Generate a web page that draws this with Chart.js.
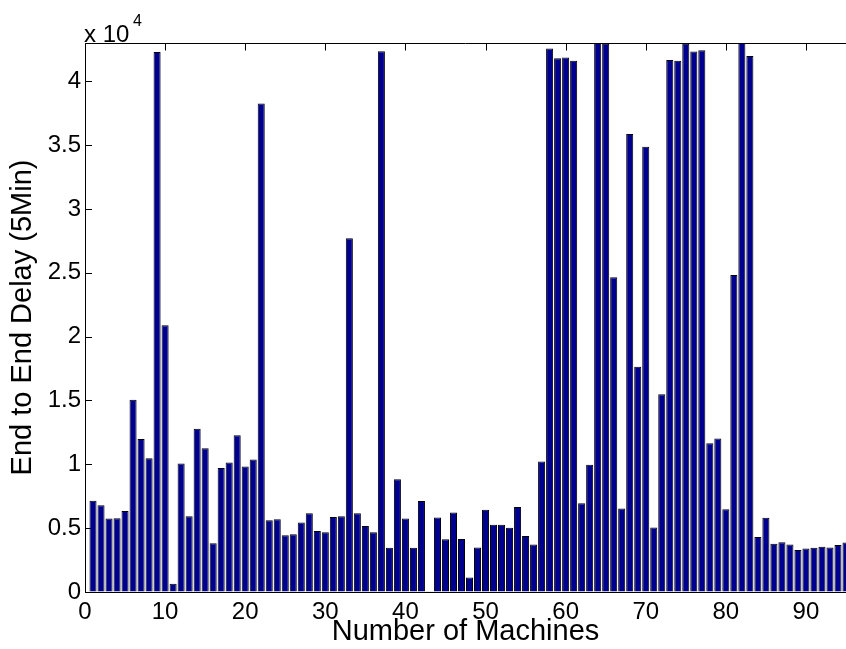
<!DOCTYPE html>
<html>
<head>
<meta charset="utf-8">
<script src="https://cdn.jsdelivr.net/npm/chart.js@4.4.0/dist/chart.umd.min.js"></script>
<style>
  html, body { margin: 0; padding: 0; background: #fff; }
  #wrap { position: relative; width: 846px; height: 649px; }
  .exp { position: absolute; font-family: "Liberation Sans", Arial, sans-serif; color: #000; white-space: nowrap; }
  #expBase { left: 84px; top: 22px; font-size: 24px; line-height: 24px; }
  #expPow { left: 133px; top: 13px; font-size: 16px; line-height: 16px; }
</style>
</head>
<body>
<div id="wrap">
  <canvas id="delayChart" width="846" height="649"></canvas>
  <span class="exp" id="expBase">x 10</span>
  <span class="exp" id="expPow">4</span>
</div>
<script>
const machines = [
   1,  2,  3,  4,  5,  6,  7,  8,  9, 10, 11, 12, 13, 14, 15, 16, 17, 18, 19, 20,
  21, 22, 23, 24, 25, 26, 27, 28, 29, 30, 31, 32, 33, 34, 35, 36, 37, 38, 39, 40,
  41, 42, 43, 44, 45, 46, 47, 48, 49, 50, 51, 52, 53, 54, 55, 56, 57, 58, 59, 60,
  61, 62, 63, 64, 65, 66, 67, 68, 69, 70, 71, 72, 73, 74, 75, 76, 77, 78, 79, 80,
  81, 82, 83, 84, 85, 86, 87, 88, 89, 90, 91, 92, 93, 94, 95
];

const delays = [
   7150,  6800,  5760,  5780,  6340, 15060, 11980, 10470, 42300, 20900,
    640, 10060,  5930, 12790, 11250,  3810,  9710, 10150, 12270,  9830,
  10380, 38260,  5610,  5700,  4450,  4530,  5440,  6160,  4770,  4680,
   5870,  5930, 27700,  6160,  5170,  4680, 42350,  3460,  8840,  5760,
   3460,  7120,    60,  5840,  4130,  6220,  4160,  1130,  3490,  6450,
   5260,  5260,  5030,  6660,  4390,  3720, 10230, 42560, 41800, 41860,
  41600,  6950,  9970, 44000, 42940, 24650,  6540, 35870, 17650, 34880,
   5060, 15490, 41660, 41600, 42940, 42330, 42440, 11660, 12030,  6480,
  24830, 44000, 41980,  4300,  5810,  3780,  3900,  3720,  3280,  3400,
   3460,  3550,  3490,  3690,  3870
];

const xTicks = [0, 10, 20, 30, 40, 50, 60, 70, 80, 90];
const yTicks = [0, 5000, 10000, 15000, 20000, 25000, 30000, 35000, 40000];

const FONT = '"Liberation Sans", Arial, Helvetica, sans-serif';

// MATLAB style box: inward ticks on the left, top border with ticks
const frame = {
  id: 'frame',
  beforeDatasetsDraw(chart) {
    const { ctx, chartArea: a, scales: { y } } = chart;
    ctx.save();
    ctx.strokeStyle = '#000';
    ctx.lineWidth = 1;
    ctx.beginPath();
    yTicks.forEach(v => {
      const py = Math.round(y.getPixelForValue(v)) + 0.5;
      ctx.moveTo(a.left, py);
      ctx.lineTo(a.left + 7, py);
    });
    ctx.stroke();
    ctx.restore();
  },
  afterDraw(chart) {
    const { ctx, chartArea: a, scales: { x } } = chart;
    ctx.save();
    ctx.strokeStyle = '#000';
    ctx.lineWidth = 1;
    ctx.beginPath();
    const top = Math.round(a.top) + 0.5;
    ctx.moveTo(a.left, top);
    ctx.lineTo(a.right, top);
    xTicks.forEach(v => {
      if (v === 0) return;
      const px = Math.round(x.getPixelForValue(v)) + 0.5;
      ctx.moveTo(px, top);
      ctx.lineTo(px, top + 7);
    });
    ctx.stroke();
    ctx.restore();
  }
};

new Chart(document.getElementById('delayChart').getContext('2d'), {
  type: 'bar',
  data: {
    datasets: [{
      data: machines.map((m, i) => ({ x: m, y: delays[i] })),
      backgroundColor: '#00008f',
      borderColor: '#000',
      borderWidth: 1,
      barPercentage: 0.88,
      categoryPercentage: 1.0
    }]
  },
  options: {
    responsive: false,
    animation: false,
    layout: { padding: { top: 43, right: 0, left: 0, bottom: 0 } },
    plugins: {
      legend: { display: false },
      tooltip: { enabled: false }
    },
    scales: {
      x: {
        type: 'linear',
        min: 0,
        max: 95,
        offset: false,
        afterFit: s => { s.height = 57; },
        afterBuildTicks: s => { s.ticks = xTicks.map(v => ({ value: v })); },
        grid: { drawOnChartArea: false, drawTicks: false },
        border: { display: true, color: '#000', width: 1 },
        ticks: {
          padding: 6,
          color: '#000',
          maxRotation: 0,
          autoSkip: false,
          font: { family: FONT, size: 24 }
        },
        title: {
          display: true,
          text: 'Number of Machines',
          color: '#000',
          font: { family: FONT, size: 29, lineHeight: 1 },
          padding: { top: 0, bottom: 2.5 }
        }
      },
      y: {
        min: 0,
        max: 43000,
        afterFit: s => { s.width = 85; },
        afterBuildTicks: s => { s.ticks = yTicks.map(v => ({ value: v })); },
        grid: { drawOnChartArea: false, drawTicks: false },
        border: { display: true, color: '#000', width: 1 },
        ticks: {
          padding: 4,
          color: '#000',
          autoSkip: false,
          font: { family: FONT, size: 24 },
          callback: v => String(v / 10000)
        },
        title: {
          display: true,
          text: 'End to End Delay (5Min)',
          color: '#000',
          font: { family: FONT, size: 29, lineHeight: 1 },
          padding: { top: 8.5, bottom: 0 }
        }
      }
    }
  },
  plugins: [frame]
});
</script>
</body>
</html>
